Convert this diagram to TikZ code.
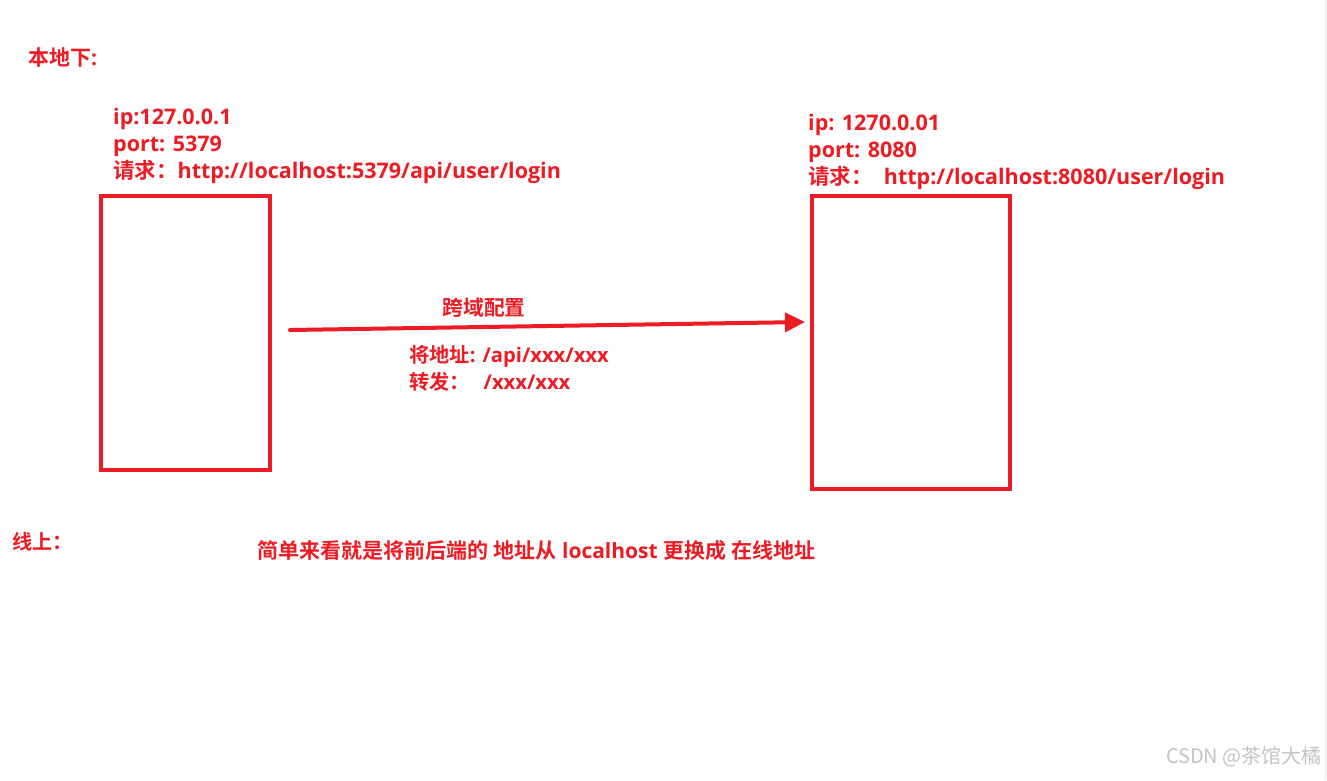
\documentclass[tikz,border=0pt]{standalone}
\usepackage{fontspec}
\setmainfont{Open Sans}[BoldFont={Open Sans Bold}]
\newfontfamily\cjkb{Noto Sans CJK SC}[BoldFont={Noto Sans CJK SC Bold}]
\newfontfamily\cjkr{Noto Sans CJK SC}
\usetikzlibrary{arrows.meta}
\definecolor{rd}{HTML}{ED1C24}
\definecolor{wm}{HTML}{C4C4C4}
\definecolor{edge}{HTML}{EFE8EF}
\newcommand{\cj}[1]{{\cjkb\bfseries #1}}
\tikzset{
  lbl/.style={text=rd, font=\fontsize{21.5}{24}\selectfont\bfseries, inner sep=0pt, anchor=base west},
  smalltext/.style={text=rd, font=\fontsize{20.2}{22}\selectfont\bfseries, inner sep=0pt, anchor=base west},
  boxr/.style={draw=rd, line width=4pt},
}
\begin{document}
\begin{tikzpicture}[x=1pt,y=-1pt]
\useasboundingbox (0,0) rectangle (1327,780);
\fill[white] (0,0) rectangle (1327,780);
\draw[edge, line width=1pt] (1325,0) -- (1325,780);
% headings
\node[smalltext, font=\fontsize{21}{22}\selectfont\bfseries] (local) at (28,65) {\cj{本地下}:};
\node[smalltext] (online) at (12,549) {\cj{线上：}};
% left texts
\node[lbl] (lip) at (113,124) {ip:127.0.0.1};
\node[lbl] (lport) at (113,151) {port: 5379};
\node[lbl] (lreq) at (113,178) {\cj{请求：}http://localhost:5379/api/user/login};
% right texts
\node[lbl] (rip) at (808,130) {ip: 1270.0.01};
\node[lbl] (rport) at (808,157) {port: 8080};
\node[lbl] (rreq) at (808,184) {\cj{请求：}\ \ http://localhost:8080/user/login};
% boxes
\draw[boxr] (101,196) rectangle (270,470);
\draw[boxr] (812,196) rectangle (1010,489);
\coordinate (rbox) at (805,322);
% arrow
\coordinate (astart) at (290,330);
\draw[rd, line width=4pt, line cap=round, -{Triangle[length=20pt,width=19pt]}] (astart) -- (rbox);
\node[text=rd, font=\fontsize{20.8}{22}\selectfont, inner sep=0pt] (cfg) at (484,308) {\cj{跨域配置}};
\node[smalltext] (fw1) at (409,362) {\cj{将地址}: /api/xxx/xxx};
\node[smalltext] (fw2) at (409,389) {\cj{转发：}\ \ \,/xxx/xxx};
% summary
\node[smalltext, font=\fontsize{21}{22}\selectfont\bfseries] (sum) at (257,558) {\cj{简单来看就是将前后端的} \cj{地址从} localhost \cj{更换成} \cj{在线地址}};
% watermark
\node[text=wm, font=\fontsize{20}{24}\selectfont\cjkr, inner sep=0pt, anchor=east] (wmk) at (1322,757) {CSDN @茶馆大橘};
\end{tikzpicture}
\end{document}
